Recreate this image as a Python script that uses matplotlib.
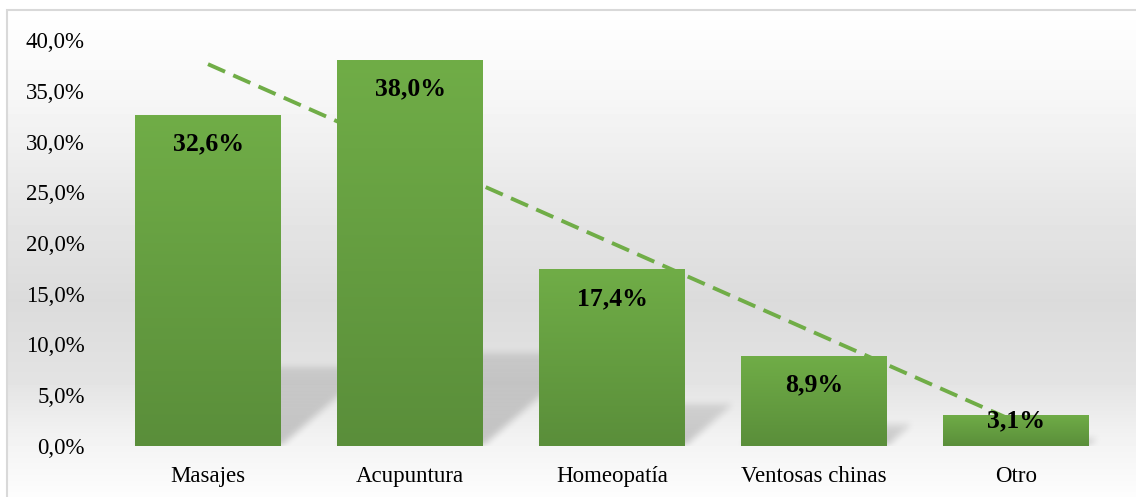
import numpy as np
import matplotlib
matplotlib.use("Agg")
import matplotlib.pyplot as plt
from matplotlib.patches import Rectangle
from matplotlib.colors import LinearSegmentedColormap

plt.rcParams['font.family'] = ['Liberation Serif', 'DejaVu Serif']

# data
categories = ["Masajes", "Acupuntura", "Homeopatía", "Ventosas chinas", "Otro"]
values = [32.6, 38.0, 17.4, 8.9, 3.1]
y_ticks = [0, 5, 10, 15, 20, 25, 30, 35, 40]

W, H = 1136, 497
fig = plt.figure(figsize=(W / 100, H / 100), dpi=100)
fig.patch.set_facecolor('white')

# chart area background: vertical gray gradient (white - gray - white)
bg = fig.add_axes([7 / W, 0, 1 - 7 / W, (H - 10) / H])
bg.set_axis_off()
rows = np.arange(10, H)
stops_y = [10, 100, 200, 300, 380, 440, 497]
stops_v = [255, 246, 231, 219, 227, 243, 253]
shade = np.interp(rows, stops_y, stops_v) / 255.0
bg.imshow(np.repeat(shade[:, None], 2, axis=1), cmap='gray', vmin=0, vmax=1,
          aspect='auto', extent=[0, 1, 0, 1])
bg.set_xlim(0, 1)
bg.set_ylim(0, 1)
fig.patches.append(Rectangle((7 / W, -0.05), 1.2, (H - 10) / H + 0.05,
                             transform=fig.transFigure, fill=False,
                             edgecolor='#d9d9d9', lw=1.5, zorder=0))

ax = fig.add_axes([107 / W, 51 / H, 1010 / W, 406 / H])
ax.set_facecolor('none')

x = np.arange(len(categories))
xlim = (-0.5, len(categories) - 0.5)
ylim = (0, 40)
bar_w = 0.72

# pixel grid of the plot area, used for the blurred shadows
nx, ny = 1010, 406
px_x = nx / len(categories)
px_y = ny / ylim[1]
gx, gy = np.meshgrid(np.arange(nx) + 0.5, np.arange(ny) + 0.5)


def box_blur(a, r):
    k = np.ones(2 * r + 1) / (2 * r + 1)
    a = np.apply_along_axis(lambda m: np.convolve(m, k, mode='same'), 0, a)
    a = np.apply_along_axis(lambda m: np.convolve(m, k, mode='same'), 1, a)
    return a


shadow = np.zeros((ny, nx))
for xi, v in zip(x, values):
    sh = 0.24 * v * px_y
    sp = 1.15 * sh
    x0 = (xi - bar_w / 2 - xlim[0]) * px_x
    x1 = (xi + bar_w / 2 - xlim[0]) * px_x
    t = gy / sh
    inside = (gy <= sh) & (gx >= x0 + sp * t) & (gx <= x1 + sp * t)
    shadow = np.maximum(shadow, inside * (1 - 0.45 * np.clip(t, 0, 1)))
shadow = box_blur(box_blur(shadow, 4), 3)
rgba = np.zeros((ny, nx, 4))
rgba[..., 3] = 0.2 * shadow
ax.imshow(rgba, origin='lower', aspect='auto',
          extent=[xlim[0], xlim[1], ylim[0], ylim[1]], zorder=1)

# linear trendline
coef = np.polyfit(x, values, 1)
ax.plot(x, np.polyval(coef, x), color='#70ad47', lw=2.8,
        linestyle=(0, (4.8, 2.3)), zorder=2)

# bars with a vertical green gradient
bars = ax.bar(x, values, width=bar_w, color='#6aa444', zorder=3)
green = LinearSegmentedColormap.from_list('g', ['#5a8e3a', '#70ad47'])
grad = np.linspace(0, 1, 256)[:, None]
for b in bars:
    bx, bw, bh = b.get_x(), b.get_width(), b.get_height()
    im = ax.imshow(grad, cmap=green, origin='lower', aspect='auto',
                   extent=[bx, bx + bw, 0, bh], zorder=3.5)
    im.set_clip_path(b)

ax.set_xlim(*xlim)
ax.set_ylim(*ylim)

# data labels inside the bar tops
for xi, v in zip(x, values):
    h_px = v * px_y
    off_px = min(29, h_px - 25)
    ax.annotate(f"{v:.1f}%".replace('.', ','), xy=(xi, v),
                xytext=(0, -off_px * 0.72), textcoords='offset points',
                ha='center', va='center', fontsize=18.5, fontweight='bold',
                color='black', zorder=5)

ax.set_yticks(y_ticks)
ax.set_yticklabels([f"{t:.1f}%".replace('.', ',') for t in y_ticks])
ax.set_xticks(x)
ax.set_xticklabels(categories)
ax.tick_params(axis='y', length=0, pad=16, labelsize=16.5)
ax.tick_params(axis='x', length=0, pad=14.5, labelsize=16.5)
for s in ax.spines.values():
    s.set_visible(False)

fig.savefig('out.png', dpi=100)
